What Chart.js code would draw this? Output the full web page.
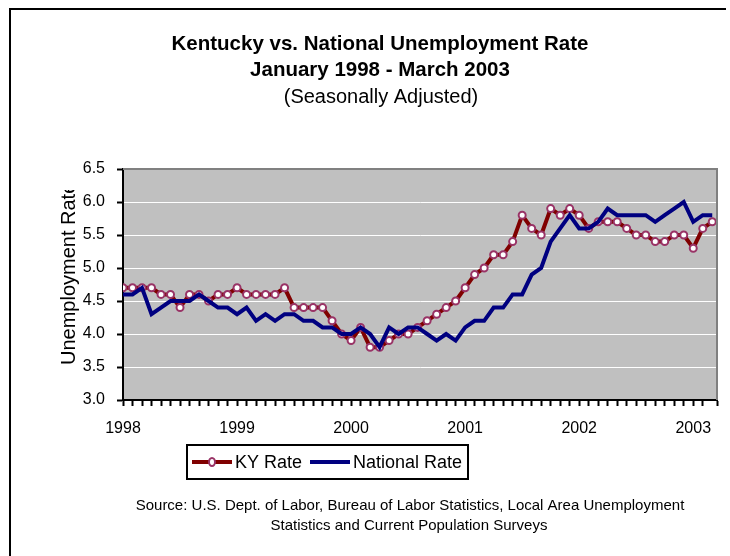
<!DOCTYPE html>
<html>
<head>
<meta charset="utf-8">
<script src="https://cdn.jsdelivr.net/npm/chart.js@4.4.1/dist/chart.umd.min.js"></script>
<style>
  html, body { margin: 0; padding: 0; background: #fff; }
</style>
</head>
<body>
<canvas id="kyChart" width="730" height="556"></canvas>
<script>
// year tick labels, one per January
const years = ['1998', '1999', '2000', '2001', '2002', '2003'];
const monthsPerYear = 12;
const monthCount = 63; // Jan 1998 - Mar 2003

// seasonally adjusted rates
const kyRate = [
  4.7, 4.7, 4.7, 4.7, 4.6, 4.6, 4.4, 4.6, 4.6, 4.5, 4.6, 4.6,
  4.7, 4.6, 4.6, 4.6, 4.6, 4.7, 4.4, 4.4, 4.4, 4.4, 4.2, 4.0,
  3.9, 4.1, 3.8, 3.8, 3.9, 4.0, 4.0, 4.1, 4.2, 4.3, 4.4, 4.5,
  4.7, 4.9, 5.0, 5.2, 5.2, 5.4, 5.8, 5.6, 5.5, 5.9, 5.8, 5.9,
  5.8, 5.6, 5.7, 5.7, 5.7, 5.6, 5.5, 5.5, 5.4, 5.4, 5.5, 5.5,
  5.3, 5.6, 5.7
];
const nationalRate = [
  4.6, 4.6, 4.7, 4.3, 4.4, 4.5, 4.5, 4.5, 4.6, 4.5, 4.4, 4.4,
  4.3, 4.4, 4.2, 4.3, 4.2, 4.3, 4.3, 4.2, 4.2, 4.1, 4.1, 4.0,
  4.0, 4.1, 4.0, 3.8, 4.1, 4.0, 4.1, 4.1, 4.0, 3.9, 4.0, 3.9,
  4.1, 4.2, 4.2, 4.4, 4.4, 4.6, 4.6, 4.9, 5.0, 5.4, 5.6, 5.8,
  5.6, 5.6, 5.7, 5.9, 5.8, 5.8, 5.8, 5.8, 5.7, 5.8, 5.9, 6.0,
  5.7, 5.8, 5.8
];

const titleLines = ['Kentucky vs. National Unemployment Rate', 'January 1998 - March 2003'];
const subTitle = '(Seasonally Adjusted)';
const yTitle = 'Unemployment Rate';
const sourceLines = [
  'Source: U.S. Dept. of Labor, Bureau of Labor Statistics, Local Area Unemployment',
  'Statistics and Current Population Surveys'
];

const FONT = '"Liberation Sans", Arial, sans-serif';

const toPoints = (arr) => arr.map((v, i) => ({ x: i, y: v }));

// draws the grey plot background, frame, texts and the boxed legend
const decorPlugin = {
  id: 'decor',
  beforeDraw(chart) {
    const { ctx, chartArea: a } = chart;
    ctx.save();
    ctx.fillStyle = '#fff';
    ctx.fillRect(0, 0, chart.width, chart.height);
    ctx.fillStyle = '#c0c0c0';
    ctx.fillRect(a.left, a.top, a.right - a.left, a.bottom - a.top);
    ctx.restore();
  },
  afterDraw(chart) {
    const { ctx, chartArea: a } = chart;
    ctx.save();

    // outer frame (top and left edges show)
    ctx.strokeStyle = '#000';
    ctx.lineWidth = 2;
    ctx.beginPath();
    ctx.moveTo(10, 560);
    ctx.lineTo(10, 9);
    ctx.lineTo(726, 9);
    ctx.stroke();

    // plot area border, top and right
    ctx.strokeStyle = '#808080';
    ctx.lineWidth = 2;
    ctx.beginPath();
    ctx.moveTo(a.left, a.top);
    ctx.lineTo(a.right, a.top);
    ctx.lineTo(a.right, a.bottom);
    ctx.stroke();

    // titles
    ctx.fillStyle = '#000';
    ctx.textAlign = 'center';
    ctx.textBaseline = 'middle';
    ctx.font = 'bold 20.5px ' + FONT;
    ctx.fillText(titleLines[0], 380, 44);
    ctx.fillText(titleLines[1], 380, 70);
    ctx.font = '20px ' + FONT;
    ctx.fillText(subTitle, 381, 97);

    // source note
    ctx.font = '15px ' + FONT;
    ctx.fillText(sourceLines[0], 410, 506);
    ctx.fillText(sourceLines[1], 409, 526);

    // y axis title, cut off at the top like the original
    ctx.save();
    ctx.beginPath();
    ctx.rect(0, 190, a.left, 300);
    ctx.clip();
    ctx.translate(69, 365);
    ctx.rotate(-Math.PI / 2);
    ctx.textAlign = 'left';
    ctx.font = '20px ' + FONT;
    ctx.fillText(yTitle, 0, 0);
    ctx.restore();

    // legend box
    const ds = chart.data.datasets;
    ctx.strokeStyle = '#000';
    ctx.lineWidth = 2;
    ctx.strokeRect(187, 445, 281, 34);
    const ly = 462;
    ctx.font = '18px ' + FONT;
    ctx.textAlign = 'left';

    ctx.strokeStyle = ds[0].borderColor;
    ctx.lineWidth = ds[0].borderWidth;
    ctx.beginPath();
    ctx.moveTo(192, ly);
    ctx.lineTo(232, ly);
    ctx.stroke();
    ctx.beginPath();
    ctx.ellipse(212, ly, 3, 4, 0, 0, Math.PI * 2);
    ctx.fillStyle = ds[0].pointBackgroundColor;
    ctx.fill();
    ctx.strokeStyle = ds[0].pointBorderColor;
    ctx.lineWidth = 2;
    ctx.stroke();
    ctx.fillStyle = '#000';
    ctx.fillText(ds[0].label, 235, ly + 1);

    ctx.strokeStyle = ds[1].borderColor;
    ctx.lineWidth = ds[1].borderWidth;
    ctx.beginPath();
    ctx.moveTo(310, ly);
    ctx.lineTo(350, ly);
    ctx.stroke();
    ctx.fillText(ds[1].label, 353, ly + 1);

    ctx.restore();
  }
};

const ctx = document.getElementById('kyChart').getContext('2d');
const chart = new Chart(ctx, {
  type: 'line',
  data: {
    datasets: [
      {
        label: 'KY Rate',
        data: toPoints(kyRate),
        borderColor: '#800000',
        borderWidth: 4,
        pointRadius: 3.5,
        pointBorderWidth: 2,
        pointBackgroundColor: '#ffffff',
        pointBorderColor: '#993366',
        tension: 0,
        order: 1
      },
      {
        label: 'National Rate',
        data: toPoints(nationalRate),
        borderColor: '#000080',
        borderWidth: 4,
        pointRadius: 0,
        tension: 0,
        order: 0
      }
    ]
  },
  options: {
    responsive: false,
    animation: false,
    layout: { padding: { top: 169, right: 11, left: 0, bottom: 0 } },
    plugins: {
      legend: { display: false },
      title: { display: false },
      tooltip: { enabled: false }
    },
    scales: {
      x: {
        type: 'linear',
        min: 0,
        max: monthCount - 0.5,
        afterFit: (scale) => { scale.height = 156; },
        grid: {
          drawOnChartArea: false,
          drawTicks: true,
          tickLength: 6,
          tickWidth: 2,
          tickColor: '#000'
        },
        border: { color: '#000', width: 2 },
        ticks: {
          stepSize: 1,
          autoSkip: false,
          maxRotation: 0,
          padding: 13,
          color: '#000',
          font: { family: FONT, size: 16 },
          callback: (v) => (Number.isInteger(v) && v % monthsPerYear === 0) ? years[v / monthsPerYear] : ''
        }
      },
      y: {
        min: 3,
        max: 6.5,
        afterFit: (scale) => { scale.width = 123; },
        grid: {
          color: '#ffffff',
          lineWidth: 1,
          tickLength: 6,
          tickWidth: 2,
          tickColor: '#000'
        },
        border: { color: '#000', width: 2 },
        ticks: {
          stepSize: 0.5,
          padding: 12,
          color: '#000',
          font: { family: FONT, size: 16 },
          callback: (v) => v.toFixed(1)
        }
      }
    }
  },
  plugins: [decorPlugin]
});
</script>
</body>
</html>
